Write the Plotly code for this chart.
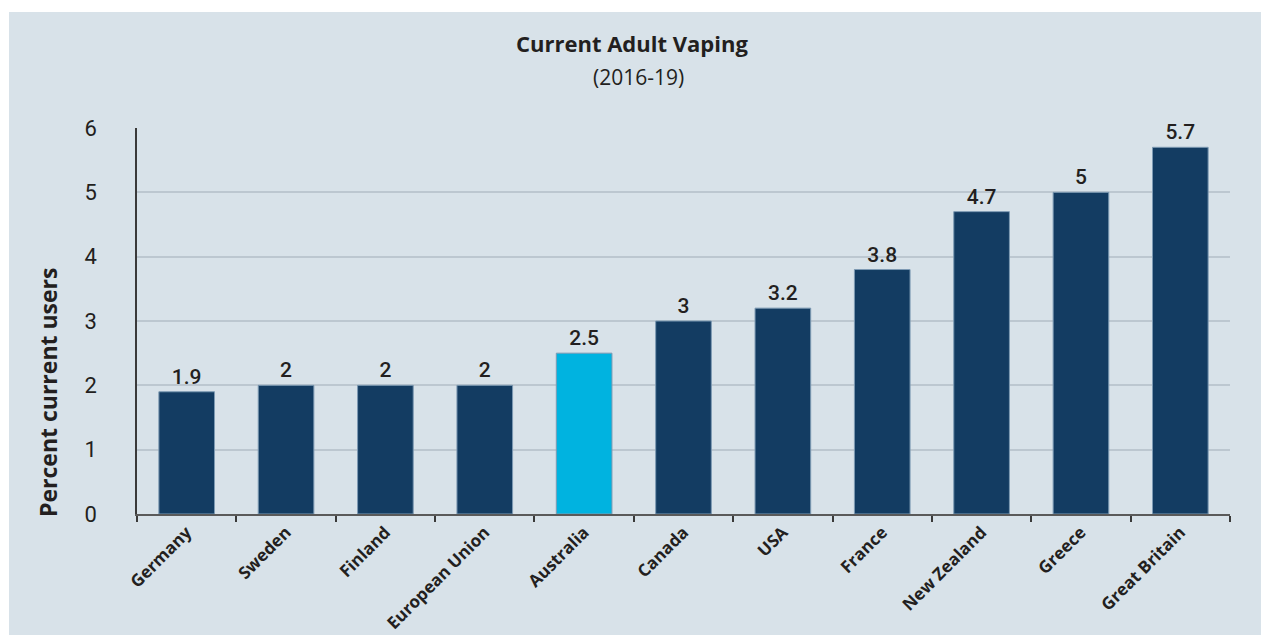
import plotly.graph_objects as go

countries = ["Germany", "Sweden", "Finland", "European Union", "Australia",
             "Canada", "USA", "France", "New Zealand", "Greece", "Great Britain"]
percent_users = [1.9, 2, 2, 2, 2.5, 3, 3.2, 3.8, 4.7, 5, 5.7]
value_labels = ["1.9", "2", "2", "2", "2.5", "3", "3.2", "3.8", "4.7", "5", "5.7"]

NAVY = "#133c62"
CYAN = "#00b3e0"
PANEL = "#d8e2e9"
INK = "#231f20"
FONT = "Roboto"
BOLD_FONT = "Open Sans"

W, H = 1261, 635
L, R, T, B = 137, 31, 128, 121
PW, PH = W - L - R, H - T - B


def px_x(x):
    return (x - L) / PW


def px_y(y):
    return (H - B - y) / PH


bar_colors = [CYAN if c == "Australia" else NAVY for c in countries]

fig = go.Figure(
    go.Bar(
        x=countries,
        y=percent_users,
        width=0.56,
        marker=dict(color=bar_colors, line=dict(color="#7d9ab3", width=1)),
        text=value_labels,
        textposition="outside",
        textfont=dict(family=FONT, size=21, color=INK, weight=500),
        cliponaxis=False,
        hoverinfo="x+y",
    )
)

fig.update_layout(
    width=W,
    height=H,
    margin=dict(l=L, r=R, t=T, b=B, autoexpand=False),
    paper_bgcolor="white",
    plot_bgcolor="rgba(0,0,0,0)",
    showlegend=False,
    font=dict(family=FONT, color=INK),
    shapes=[
        dict(type="rect", xref="paper", yref="paper", layer="below",
             x0=px_x(9), x1=px_x(W), y0=px_y(H), y1=px_y(12),
             fillcolor=PANEL, line=dict(width=0)),
    ],
    annotations=[
        dict(text="<b>Current Adult Vaping</b>", xref="paper", yref="paper",
             x=px_x(632), y=px_y(43), xanchor="center", yanchor="middle",
             showarrow=False, font=dict(family=BOLD_FONT, size=22, color=INK)),
        dict(text="(2016-19)", xref="paper", yref="paper",
             x=px_x(638), y=px_y(77), xanchor="center", yanchor="middle",
             showarrow=False,
             font=dict(family=BOLD_FONT, size=21, color=INK, weight=500)),
        dict(text="<b>Percent current users</b>", xref="paper", yref="paper",
             x=px_x(48), y=px_y(393), xanchor="center", yanchor="middle",
             textangle=-90, showarrow=False,
             font=dict(family=BOLD_FONT, size=23, color=INK)),
    ],
)

fig.update_yaxes(
    range=[0, 6],
    dtick=1,
    automargin=False,
    showgrid=True,
    gridcolor="#bcc7d0",
    gridwidth=1.5,
    zeroline=False,
    showline=True,
    linecolor="#3a3a3a",
    linewidth=1.5,
    ticks="",
    ticklabelstandoff=34,
    tickfont=dict(family=FONT, size=22, color=INK),
)

fig.update_xaxes(
    tickangle=-45,
    automargin=False,
    tickson="boundaries",
    ticks="outside",
    ticklen=6,
    tickwidth=1.5,
    tickcolor="#3a3a3a",
    showline=True,
    linecolor="#5a5a5a",
    linewidth=1.5,
    showgrid=False,
    tickfont=dict(family=BOLD_FONT, size=17, color=INK, weight="bold"),
)

fig.write_html("out.html")
